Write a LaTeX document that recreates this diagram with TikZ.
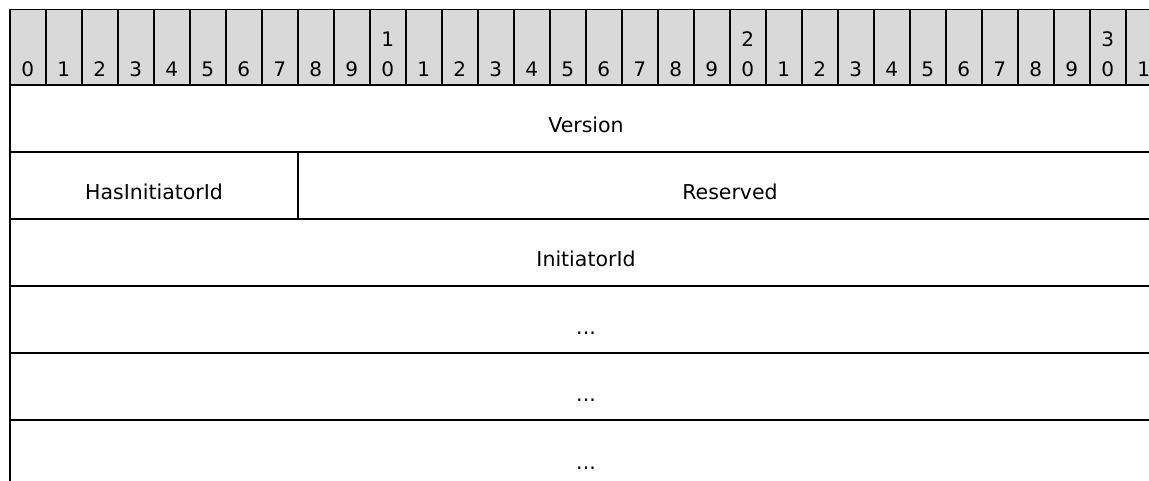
\documentclass[tikz,border=0pt]{standalone}
\usepackage{fontspec}
\setmainfont{DejaVu Sans}
\usetikzlibrary{calc}
\definecolor{hdrgray}{RGB}{217,217,217}
\tikzset{
  hdr/.style={draw=black, line width=1.5pt, fill=hdrgray, minimum width=36pt, minimum height=75pt, inner sep=0pt, anchor=north west},
  fld/.style={draw=black, line width=2pt, inner sep=0pt, anchor=north west, minimum height=67pt},
  digit/.style={inner sep=0pt, anchor=base, font=\fontsize{20}{30}\selectfont},
  lbl/.style={inner sep=0pt, anchor=base, font=\fontsize{20.5}{30}\selectfont}
}
\begin{document}
\begin{tikzpicture}[x=1pt,y=-1pt]
\clip (0,0) rectangle (1149,481);
\foreach \i in {0,...,31} {
  \pgfmathtruncatemacro\xl{9+36*\i}
  \node[hdr] (h\i) at (\xl,9) {};
}
\foreach \i in {0,...,31} {
  \pgfmathtruncatemacro\u{mod(\i,10)}
  \node[digit] (u\i) at ($(h\i.south)+(0,-9)$) {\u};
}
\foreach \i/\t in {10/1,20/2,30/3} {
  \node[digit] (t\i) at ($(h\i.south)+(0,-38.5)$) {\t};
}
\node[fld, minimum width=1152pt] (version) at (9,84) {};
\node[fld, minimum width=288pt] (hasinit) at (9,151) {};
\node[fld, minimum width=864pt] (reserved) at (297,151) {};
\node[fld, minimum width=1152pt] (initid) at (9,218) {};
\node[fld, minimum width=1152pt] (more1) at (9,285) {};
\node[fld, minimum width=1152pt] (more2) at (9,352) {};
\node[fld, minimum width=1152pt, minimum height=68pt] (more3) at (9,419) {};
\node[lbl] (versionL) at ($(version.north)+(0,49)$) {Version};
\node[lbl] (hasinitL) at ($(hasinit.north)+(0,49)$) {HasInitiatorId};
\node[lbl] (reservedL) at ($(reserved.north)+(0,49)$) {Reserved};
\node[lbl] (initidL) at ($(initid.north)+(0,49)$) {InitiatorId};
\node[lbl] (more1L) at ($(more1.north)+(0,49)$) {...};
\node[lbl] (more2L) at ($(more2.north)+(0,49)$) {...};
\node[lbl] (more3L) at ($(more3.north)+(0,50)$) {...};
\end{tikzpicture}
\end{document}
